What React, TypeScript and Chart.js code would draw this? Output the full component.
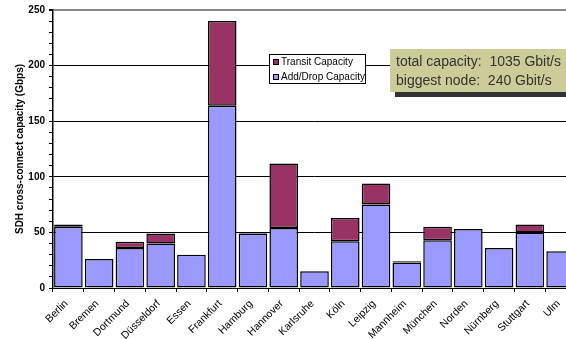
import React, { useEffect, useRef } from "react";
import { Chart, registerables } from "chart.js";

Chart.register(...registerables);

const categories = [
  "Berlin", "Bremen", "Dortmund", "Düsseldorf", "Essen", "Frankfurt", "Hamburg", "Hannover",
  "Karlsruhe", "Köln", "Leipzig", "Mannheim", "München", "Norden", "Nürnberg", "Stuttgart", "Ulm",
];
const addDropCapacity = [55, 26, 36, 40, 30, 164, 49, 54, 15, 42, 75, 23, 43, 53, 36, 50, 33];
const transitCapacity = [2, null, 5.5, 9, null, 76, 1.2, 58, null, 21, 19, 1, 12, null, null, 7, null];
const seriesNames = ["Add/Drop Capacity", "Transit Capacity"];
const yTitle = "SDH cross-connect capacity (Gbps)";
const noteLines = ["total capacity:  1035 Gbit/s", "biggest node:  240 Gbit/s"];

const ADD_COLOR = "#9999FF";
const TRANSIT_COLOR = "#993366";
const FONT = "'Liberation Sans', Arial, sans-serif";

const overlayPlugin = {
  id: "overlay",
  afterDraw(chart: any) {
    const ctx = chart.ctx;
    ctx.save();
    // rotated category labels, positioned by the x scale
    const xs = chart.scales.x;
    ctx.font = `10.5px ${FONT}`;
    ctx.fillStyle = "#000";
    ctx.textAlign = "right";
    ctx.textBaseline = "middle";
    categories.forEach((c, i) => {
      const px = xs.getPixelForValue(i);
      ctx.save();
      ctx.translate(px - 2, xs.top + 14);
      ctx.rotate(-Math.PI / 4);
      ctx.fillText(c, 0, 0);
      ctx.restore();
    });
    // legend
    ctx.fillStyle = "#fff";
    ctx.fillRect(269, 54, 96, 29);
    ctx.strokeStyle = "#000";
    ctx.lineWidth = 1;
    ctx.strokeRect(269.5, 54.5, 96, 29);
    const items = [
      { label: seriesNames[1], color: TRANSIT_COLOR, y: 62 },
      { label: seriesNames[0], color: ADD_COLOR, y: 77 },
    ];
    ctx.font = `10px ${FONT}`;
    ctx.textBaseline = "middle";
    ctx.textAlign = "left";
    for (const it of items) {
      ctx.fillStyle = it.color;
      ctx.fillRect(273, it.y - 3, 5, 5);
      ctx.strokeStyle = "#000";
      ctx.strokeRect(273.5, it.y - 2.5, 5, 5);
      ctx.fillStyle = "#000";
      ctx.fillText(it.label, 281, it.y);
    }
    // note box
    ctx.fillStyle = "#333333";
    ctx.fillRect(395, 86, 200, 11);
    ctx.fillStyle = "#CCCC99";
    ctx.fillRect(390, 49, 200, 43);
    ctx.fillStyle = "#333333";
    ctx.font = `14px ${FONT}`;
    ctx.fillText(noteLines[0], 396, 62);
    ctx.fillText(noteLines[1], 396, 81);
    ctx.restore();
  },
};

export default function App() {
  const ref = useRef<HTMLCanvasElement>(null);
  useEffect(() => {
    if (!ref.current) return;
    const chart = new Chart(ref.current, {
      type: "bar",
      data: {
        labels: categories,
        datasets: [
          {
            label: seriesNames[0],
            data: addDropCapacity,
            backgroundColor: ADD_COLOR,
            borderColor: "#000",
            borderWidth: 1.5,
            borderSkipped: false,
            barPercentage: 0.93,
            categoryPercentage: 1,
          },
          {
            label: seriesNames[1],
            data: transitCapacity as any,
            backgroundColor: TRANSIT_COLOR,
            borderColor: "#000",
            borderWidth: 1.5,
            borderSkipped: false,
            barPercentage: 0.93,
            categoryPercentage: 1,
          },
        ],
      },
      options: {
        responsive: false,
        animation: false,
        layout: { padding: { top: 5, right: 2, left: 0, bottom: 0 } },
        plugins: { legend: { display: false }, tooltip: { enabled: false } },
        scales: {
          x: {
            stacked: true,
            offset: true,
            grid: { offset: true, drawOnChartArea: false, color: "#000", tickLength: 4 },
            border: { color: "#000", width: 1 },
            ticks: { display: false, autoSkip: false },
            afterFit: (s: any) => { s.height = 51; },
          },
          y: {
            stacked: true,
            min: 0,
            max: 250,
            grid: {
              color: (c: any) => {
                const v = c.tick?.value;
                if (v === 250) return "#888";
                return v % 50 === 0 ? "#000" : "rgba(0,0,0,0)";
              },
              lineWidth: (c: any) => (c.tick?.value === 250 ? 2 : 1),
              tickColor: "#000",
              tickLength: 4,
            },
            border: { color: "#000", width: 1.5 },
            ticks: {
              stepSize: 10,
              autoSkip: false,
              color: "#000",
              padding: 4,
              font: { family: FONT, size: 10, weight: "bold" },
              callback: (v: any) => (v % 50 === 0 ? String(v) : ""),
            },
            title: {
              display: true,
              text: yTitle,
              color: "#000",
              font: { family: FONT, size: 10, weight: "bold" },
              padding: { top: 14, bottom: 4 },
            },
            afterFit: (s: any) => { s.width = 53; },
          },
        },
      },
      plugins: [overlayPlugin],
    });
    return () => chart.destroy();
  }, []);
  return (
    <div style={{ position: "fixed", left: 0, top: 0, width: 566, height: 339, overflow: "hidden", background: "#fff" }}>
      <canvas ref={ref} width={578} height={339} style={{ display: "block" }} />
    </div>
  );
}
